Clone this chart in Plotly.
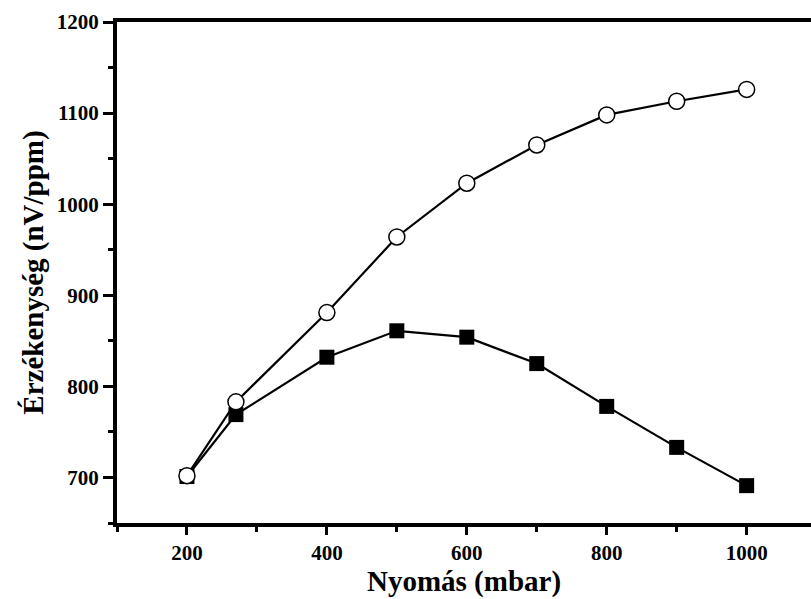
import plotly.graph_objects as go

pressure = [200, 270, 400, 500, 600, 700, 800, 900, 1000]
series_circle = [702, 783, 881, 964, 1023, 1065, 1098, 1113, 1126]
series_square = [701, 769, 832, 861, 854, 825, 778, 733, 691]

x_title = "Nyomás (mbar)"
y_title = "Érzékenység (nV/ppm)"

FONT = "'Liberation Serif', 'Times New Roman', serif"

fig = go.Figure()
fig.add_trace(go.Scatter(
    x=pressure, y=series_square, mode="lines+markers",
    line=dict(color="black", width=2.2),
    marker=dict(symbol="square", size=15, color="black", line=dict(width=0)),
    showlegend=False,
))
fig.add_trace(go.Scatter(
    x=pressure, y=series_circle, mode="lines+markers",
    line=dict(color="black", width=2.2),
    marker=dict(symbol="circle", size=16, color="white", line=dict(color="black", width=1.5)),
    showlegend=False,
))

fig.update_layout(
    width=811, height=599,
    margin=dict(l=117, r=0, t=22, b=76),
    paper_bgcolor="white", plot_bgcolor="white",
    showlegend=False,
    xaxis=dict(
        range=[100, 1092], tick0=0, dtick=200,
        showgrid=False, zeroline=False,
        showline=True, linecolor="black", linewidth=4, mirror=True,
        ticks="outside", ticklen=8, tickwidth=2.5, tickcolor="black",
        minor=dict(dtick=100, ticks="outside", ticklen=5, tickwidth=2.5, tickcolor="black", showgrid=False),
        tickfont=dict(family=FONT, size=21, color="black", weight="bold"),
        title=dict(text=x_title, font=dict(family=FONT, size=29, color="black", weight="bold"), standoff=6),
    ),
    yaxis=dict(
        range=[650, 1200], tick0=0, dtick=100,
        showgrid=False, zeroline=False,
        showline=True, linecolor="black", linewidth=4, mirror=False,
        ticks="outside", ticklen=10, tickwidth=2.5, tickcolor="black",
        minor=dict(dtick=50, ticks="outside", ticklen=5, tickwidth=2.5, tickcolor="black", showgrid=False),
        tickfont=dict(family=FONT, size=21, color="black", weight="bold"),
        title=dict(text=y_title, font=dict(family=FONT, size=29, color="black", weight="bold"), standoff=6),
    ),
)

fig.write_html("out.html")
